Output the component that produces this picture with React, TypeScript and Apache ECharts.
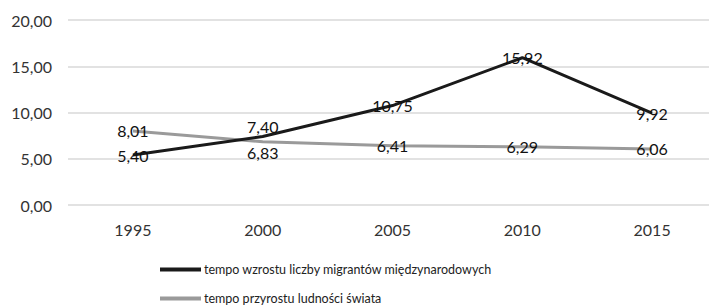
import React, { useEffect, useRef } from "react";
import * as echarts from "echarts";

const categories = ["1995", "2000", "2005", "2010", "2015"];
const migrants = [5.4, 7.4, 10.75, 15.92, 9.92];
const population = [8.01, 6.83, 6.41, 6.29, 6.06];
const migrantsPos = ["inside", "top", "inside", "inside", "inside"];
const populationPos = ["inside", "bottom", "inside", "inside", "inside"];
const seriesNames = [
  "tempo wzrostu liczby migrantów międzynarodowych",
  "tempo przyrostu ludności świata",
];
const seriesColors = ["#1a1a1a", "#9a9a9a"];

const fmt = (v: number) => v.toFixed(2).replace(".", ",");

export default function App() {
  const ref = useRef<HTMLDivElement>(null);
  useEffect(() => {
    if (!ref.current) return;
    const chart = echarts.init(ref.current, null, { renderer: "svg" });
    const font = "Lato, 'Open Sans', sans-serif";
    const mk = (vals: number[], pos: string[]) =>
      vals.map((v, i) => ({
        value: v,
        label: { position: pos[i] as any, distance: 2 },
      }));
    const legendBase = {
      orient: "horizontal",
      left: 155,
      itemWidth: 41,
      itemHeight: 4,
      itemGap: 4,
      icon: "rect",
      textStyle: { fontSize: 12.5, color: "#222", fontFamily: font, padding: [0, 0, 0, -2] },
    };
    const labelCfg = {
      show: true,
      color: "#111",
      fontSize: 16,
      fontFamily: font,
      formatter: (p: any) => fmt(p.value),
    };
    chart.setOption({
      animation: false,
      textStyle: { fontFamily: font },
      grid: { left: 68, top: 20, right: 0, height: 185, containLabel: false },
      legend: [
        { ...legendBase, top: 258, data: [{ name: seriesNames[0], itemStyle: { color: seriesColors[0] } }] },
        { ...legendBase, top: 287, data: [{ name: seriesNames[1], itemStyle: { color: seriesColors[1] } }] },
      ],
      xAxis: {
        type: "category",
        data: categories,
        boundaryGap: true,
        axisLine: { show: false },
        axisTick: { show: false },
        axisLabel: { fontSize: 16, color: "#333", margin: 16, fontFamily: font },
      },
      yAxis: {
        type: "value",
        min: 0,
        max: 20,
        interval: 5,
        axisLabel: {
          fontSize: 16,
          color: "#333",
          margin: 16,
          fontFamily: font,
          formatter: (v: number) => fmt(v),
        },
        splitLine: { lineStyle: { color: "#d9d9d9", width: 1.5 } },
      },
      series: [
        {
          name: seriesNames[0],
          type: "line",
          data: mk(migrants, migrantsPos),
          symbol: "circle",
          symbolSize: 1,
          showSymbol: true,
          lineStyle: { color: seriesColors[0], width: 3 },
          itemStyle: { color: "transparent" },
          label: labelCfg,
          z: 3,
        },
        {
          name: seriesNames[1],
          type: "line",
          data: mk(population, populationPos),
          symbol: "circle",
          symbolSize: 1,
          showSymbol: true,
          lineStyle: { color: seriesColors[1], width: 3 },
          itemStyle: { color: "transparent" },
          label: labelCfg,
          z: 2,
        },
      ],
    });
    return () => chart.dispose();
  }, []);
  return (
    <div style={{ width: 709, height: 307, position: "absolute", left: 0, top: 0, overflow: "hidden" }}>
      <div ref={ref} style={{ width: 717, height: 307 }} />
    </div>
  );
}
